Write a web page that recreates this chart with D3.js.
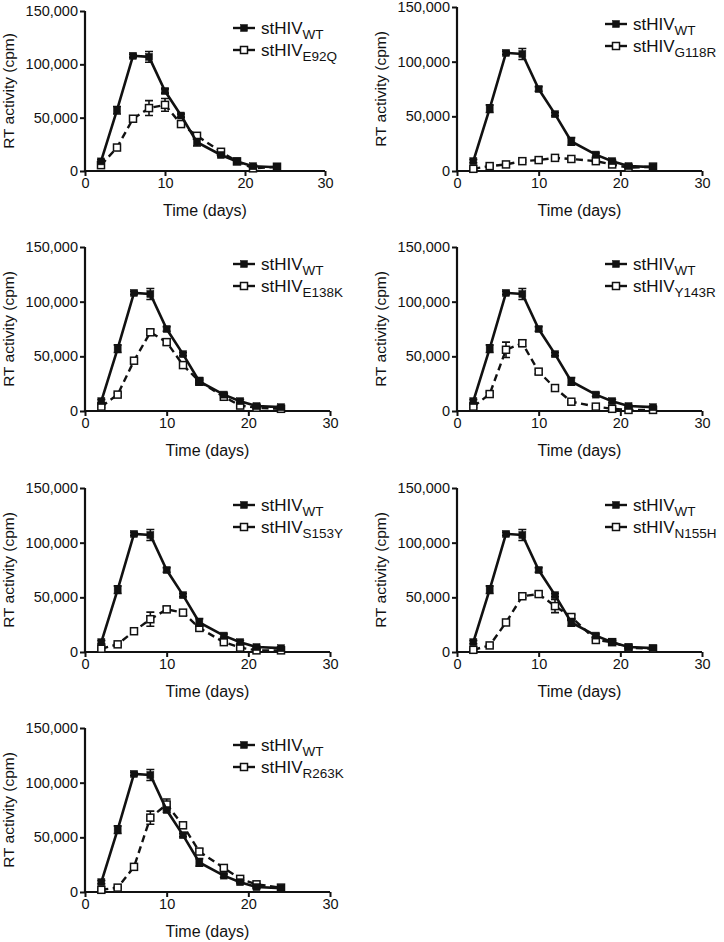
<!DOCTYPE html>
<html><head><meta charset="utf-8">
<script src="https://cdn.jsdelivr.net/npm/d3@7"></script>
<style>
html,body{margin:0;padding:0;background:#fff;}
svg{display:block;font-family:"Liberation Sans",Arial,sans-serif;}
</style></head>
<body><svg id="c" width="724" height="942"></svg>
<script>
// ---- data ----
const days = [2, 4, 6, 8, 10, 12, 14, 17, 19, 21, 24];
const wtValues = [9000, 57000, 108000, 107000, 75000, 52000, 27000, 15000, 9000, 4500, 3500];
const wtErrors = [1500, 3500, 1500, 5000, 2000, 1500, 3500, 1500, 1500, 1500, 1000];
const mutantNames = ["E92Q", "G118R", "E138K", "Y143R", "S153Y", "N155H", "R263K"];
const e92qValues  = [5500, 22000, 49000, 59000, 62000, 44000, 33000, 18000, 9000, 2500, 4000];
const e92qErrors  = [1000, 1500, 1500, 7000, 6000, 2000, 1500, 1500, 1000, 1000, 1000];
const g118rValues = [2000, 4500, 6000, 9000, 10000, 12000, 11000, 9000, 6000, 3000, 4000];
const g118rErrors = [800, 800, 800, 1000, 1000, 1000, 1000, 1000, 800, 800, 800];
const e138kValues = [4000, 15000, 46000, 72000, 63000, 42000, 27000, 13000, 5000, 3000, 2000];
const e138kErrors = [1000, 1500, 2000, 2500, 2500, 2000, 1500, 1000, 1000, 800, 800];
const y143rValues = [4000, 15500, 56000, 62000, 36000, 21000, 8500, 4000, 2000, 1000, 1000];
const y143rErrors = [1000, 1500, 7000, 3000, 2000, 1500, 1000, 800, 800, 500, 500];
const s153yValues = [3000, 7000, 19000, 30000, 39000, 36000, 22000, 9000, 4000, 1500, 1500];
const s153yErrors = [800, 1000, 1500, 6500, 2500, 1500, 1500, 1000, 800, 500, 500];
const n155hValues = [2000, 6000, 27000, 51000, 53000, 42000, 32000, 11000, 9000, 4000, 3000];
const n155hErrors = [800, 1000, 1500, 1500, 1500, 6000, 2000, 1000, 1000, 800, 800];
const r263kValues = [2000, 4000, 23000, 68000, 80000, 61000, 37000, 22000, 12000, 7000, 4000];
const r263kErrors = [800, 800, 1500, 6000, 5000, 2500, 2500, 1500, 1000, 800, 800];
const mutantValues = [e92qValues, g118rValues, e138kValues, y143rValues, s153yValues, n155hValues, r263kValues];
const mutantErrors = [e92qErrors, g118rErrors, e138kErrors, y143rErrors, s153yErrors, n155hErrors, r263kErrors];
const xTicks = [0, 10, 20, 30];
const yTicks = [0, 50000, 100000, 150000];
const xTitle = "Time (days)";
const yTitle = "RT activity (cpm)";

// ---- layout ----
const panels = [
  {l: 85,  r: 325, t: 11,  b: 171},
  {l: 457, r: 702, t: 7,   b: 171},
  {l: 85,  r: 330, t: 247, b: 411},
  {l: 457, r: 702, t: 247, b: 411},
  {l: 85,  r: 330, t: 488, b: 652},
  {l: 457, r: 702, t: 488, b: 652},
  {l: 85,  r: 330, t: 728, b: 892}
];
const ink = "#111";
const svg = d3.select("#c");

panels.forEach((p, i) => {
  const x = d3.scaleLinear().domain([0, 30]).range([p.l, p.r]);
  const y = d3.scaleLinear().domain([0, 150000]).range([p.b, p.t]);
  const g = svg.append("g");

  // axes
  const xa = g.append("g").attr("transform", `translate(0,${p.b})`)
    .call(d3.axisBottom(x).tickValues(xTicks).tickSize(5).tickPadding(2).tickFormat(d3.format("d")));
  const ya = g.append("g").attr("transform", `translate(${p.l},0)`)
    .call(d3.axisLeft(y).tickValues(yTicks).tickSize(5).tickPadding(2).tickFormat(d3.format(",")));
  [xa, ya].forEach(a => {
    a.select(".domain").attr("stroke", ink).attr("stroke-width", 2.2);
    a.selectAll(".tick line").attr("stroke", ink).attr("stroke-width", 2);
    a.selectAll(".tick text").attr("fill", ink).attr("font-size", 14.5)
      .attr("font-family", "Liberation Sans, Arial, sans-serif");
  });
  ya.select(".domain").attr("d", `M-0,${p.b}V${p.t}`);
  xa.select(".domain").attr("d", `M${p.l},0H${p.r}`);

  g.append("text").attr("x", (p.l + p.r) / 2).attr("y", p.b + 45)
    .attr("text-anchor", "middle").attr("font-size", 16).attr("fill", ink).text(xTitle);
  g.append("text").attr("transform", `translate(${p.l - 71},${(p.t + p.b) / 2}) rotate(-90)`)
    .attr("text-anchor", "middle").attr("font-size", 15.5).attr("fill", ink).text(yTitle);

  const line = d3.line().x((d, k) => x(days[k])).y(d => y(d));

  const drawSeries = (vals, errs, filled) => {
    g.append("path").datum(vals).attr("d", line).attr("fill", "none")
      .attr("stroke", ink).attr("stroke-width", filled ? 2.6 : 2.4)
      .attr("stroke-dasharray", filled ? null : "7,4.5");
    const eb = g.append("g");
    vals.forEach((v, k) => {
      const cx = x(days[k]), y1 = y(v + errs[k]), y2 = y(v - errs[k]);
      eb.append("path").attr("d", `M${cx},${y1}V${y2}M${cx - 4},${y1}H${cx + 4}M${cx - 4},${y2}H${cx + 4}`)
        .attr("stroke", ink).attr("stroke-width", 1.6).attr("fill", "none");
    });
    g.append("g").selectAll("rect").data(vals).join("rect")
      .attr("x", (d, k) => x(days[k]) - 3.5)
      .attr("y", d => y(d) - 3.5)
      .attr("width", 7).attr("height", 7)
      .attr("fill", filled ? ink : "#fff")
      .attr("stroke", ink).attr("stroke-width", filled ? 0.5 : 1.5);
  };
  drawSeries(mutantValues[i], mutantErrors[i], false);
  drawSeries(wtValues, wtErrors, true);

  // legend
  const lx = p.l + 148, tx = p.l + 176;
  const rows = [{sub: "WT", filled: true}, {sub: mutantNames[i], filled: false}];
  rows.forEach((r, k) => {
    const ly = p.t + 17 + k * 22;
    g.append("line").attr("x1", lx).attr("x2", lx + 22).attr("y1", ly).attr("y2", ly)
      .attr("stroke", ink).attr("stroke-width", 2.4);
    g.append("rect").attr("x", lx + 7.5).attr("y", ly - 3.5).attr("width", 7).attr("height", 7)
      .attr("fill", r.filled ? ink : "#fff").attr("stroke", ink).attr("stroke-width", r.filled ? 0.5 : 1.5);
    const t = g.append("text").attr("x", tx).attr("y", ly + 5.5).attr("font-size", 17).attr("fill", ink);
    t.append("tspan").text("stHIV");
    t.append("tspan").attr("dy", 5).attr("font-size", 13.5).text(r.sub);
  });
});
</script>
</body></html>
